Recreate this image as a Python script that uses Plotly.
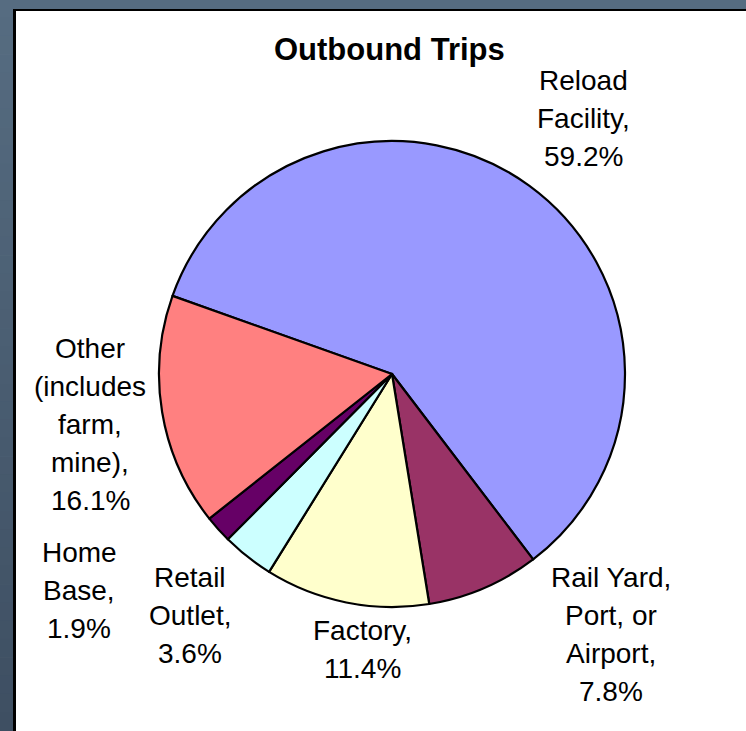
import plotly.graph_objects as go

W, H = 746, 731

# ---- data ----
categories = ["Reload Facility", "Rail Yard, Port, or Airport", "Factory",
              "Retail Outlet", "Home Base", "Other (includes farm, mine)"]
values = [59.2, 7.8, 11.4, 3.6, 1.9, 16.1]
label_lines = [
    ["Reload", "Facility,"],
    ["Rail Yard,", "Port, or", "Airport,"],
    ["Factory,"],
    ["Retail", "Outlet,"],
    ["Home", "Base,"],
    ["Other", "(includes", "farm,", "mine),"],
]
colors = ["#9999FF", "#993366", "#FFFFCC", "#CCFFFF", "#660066", "#FF8080"]
title_text = "Outbound Trips"

# ---- layout (pixel positions of label blocks: center x, first line center y) ----
label_pos = [(583, 80), (611, 577), (362, 630), (190, 577), (79, 552), (90, 348)]
line_step = 38
font_family = "Arial, Liberation Sans, sans-serif"
font_size = 28

cx, cy, r = 392, 374, 233

fig = go.Figure()
fig.add_trace(go.Pie(
    labels=categories, values=values, sort=False, direction="clockwise",
    rotation=289.6, textinfo="none", hoverinfo="label+percent",
    marker=dict(colors=colors, line=dict(color="black", width=2.2)),
    domain=dict(x=[(cx - r) / W, (cx + r) / W],
                y=[(H - cy - r) / H, (H - cy + r) / H]),
    showlegend=False,
))

annotations = []
total = sum(values)
for lines, v, (px, py) in zip(label_lines, values, label_pos):
    all_lines = lines + [f"{v / total * 100:.1f}%"]
    for i, t in enumerate(all_lines):
        annotations.append(dict(
            x=px / W, y=1 - (py + i * line_step) / H, xref="paper", yref="paper",
            text=t, showarrow=False, xanchor="center", yanchor="middle",
            font=dict(family=font_family, size=font_size, color="black")))
annotations.append(dict(
    x=389 / W, y=1 - 50 / H, xref="paper", yref="paper", text=f"<b>{title_text}</b>",
    showarrow=False, xanchor="center", yanchor="middle",
    font=dict(family=font_family, size=31, color="black")))

shapes = []
# left gradient band
n = 40
top_c = (0x56, 0x6C, 0x81)
bot_c = (0x3E, 0x4F, 0x62)
for i in range(n):
    t = i / (n - 1)
    c = tuple(round(a + (b - a) * t) for a, b in zip(top_c, bot_c))
    shapes.append(dict(type="rect", xref="paper", yref="paper",
                       x0=0, x1=13 / W, y0=1 - (i + 1) / n, y1=1 - i / n + 0.001,
                       fillcolor="rgb(%d,%d,%d)" % c, line=dict(width=0), layer="below"))
# top band
shapes.append(dict(type="rect", xref="paper", yref="paper", x0=13 / W, x1=1,
                   y0=1 - 9 / H, y1=1, fillcolor="rgb(86,108,129)", line=dict(width=0), layer="below"))
# black border lines
shapes.append(dict(type="rect", xref="paper", yref="paper", x0=13 / W, x1=16 / W,
                   y0=0, y1=1 - 9 / H, fillcolor="black", line=dict(width=0), layer="below"))
shapes.append(dict(type="rect", xref="paper", yref="paper", x0=13 / W, x1=1,
                   y0=1 - 11 / H, y1=1 - 9 / H, fillcolor="black", line=dict(width=0), layer="below"))

fig.update_layout(
    width=W, height=H, margin=dict(l=0, r=0, t=0, b=0),
    paper_bgcolor="white", plot_bgcolor="white",
    annotations=annotations, shapes=shapes,
)
fig.write_html("out.html")
